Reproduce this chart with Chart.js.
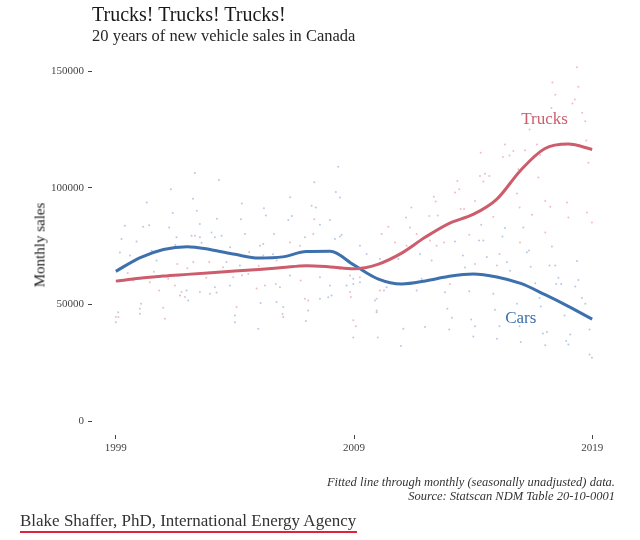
<!DOCTYPE html>
<html>
<head>
<meta charset="utf-8">
<script src="https://cdn.jsdelivr.net/npm/chart.js@4.4.1/dist/chart.umd.min.js"></script>
<style>
  body { margin: 0; background: #fff; font-family: "Liberation Serif", serif; }
  #wrap { position: relative; width: 640px; height: 540px; }
  #salesChart { position: absolute; left: 0; top: 0; }
  .title { position: absolute; left: 92px; top: 3px; font-size: 20px; color: #1a1a1a; }
  .subtitle { position: absolute; left: 92px; top: 26px; font-size: 16.5px; color: #262626; }
  .ylab { position: absolute; left: 40px; top: 245px; font-size: 15px; color: #1a1a1a;
          transform: translate(-50%, -50%) rotate(-90deg); white-space: nowrap; }
  .caption { position: absolute; right: 25px; top: 475px; text-align: right; font-style: italic;
             font-size: 12.5px; line-height: 14px; color: #333; }
  .footer { position: absolute; left: 20px; top: 511px; font-size: 17px; line-height: 20px; color: #333; }
  .uline { position: absolute; left: 20px; top: 531px; width: 337px; height: 2px; background: #e0223c; }
</style>
</head>
<body>
<div id="wrap">
  <canvas id="salesChart" width="640" height="540"></canvas>
  <div class="title">Trucks! Trucks! Trucks!</div>
  <div class="subtitle">20 years of new vehicle sales in Canada</div>
  <div class="ylab">Monthly sales</div>
  <div class="caption">Fitted line through monthly (seasonally unadjusted) data.<br>Source: Statscan NDM Table 20-10-0001</div>
  <div class="footer">Blake Shaffer, PhD, International Energy Agency</div>
  <div class="uline"></div>
</div>
<script>
// fitted lines, one value per year
const fitYears = [1999,2000,2001,2002,2003,2004,2005,2006,2007,2008,2009,2010,2011,2012,2013,2014,2015,2016,2017,2018,2019];
const carsFit = [64200,70000,73600,74800,73500,71500,69900,70400,72700,72800,66900,61000,58800,60100,62100,63100,61800,59000,54300,49200,43700];
const trucksFit = [60000,61200,62200,62900,63600,64300,65000,65800,66600,66100,65300,67200,72000,78900,84800,88600,95200,107600,116800,118800,116500];

// monthly points (subset)
const carsDotYears = [2002.32,2003.33,2001.31,2002.24,2000.30,2004.29,2005.22,2001.39,2002.40,2003.24,2004.25,2005.30,
  2008.34,2007.33,2008.24,2008.41,2006.32,2007.22,2007.40,2006.39,2006.24,2007.99,
  2014.34,2015.34,2016.11,2015.23,2014.25,2014.43,2013.24,2017.31,2016.35,2016.26,2013.57,2014.58,2018.36,2015.42,
  2017.45,2017.21,2016.42,2015.55,2013.66,2017.58,2017.49,2017.70,2018.42,2018.29,2016.61,2018.57,2018.71,2014.85,
  2013.84,2012.82,2016.79,2015.84,2012.92,2014.92,2016.84,2017.84,2013.11,2013.92,2014.08,2015.11,2015.95,2017.10,
  2016.93,2013.00,2018.08,2014.01,2015.00,2017.91,2018.00,2016.00,2017.03,2018.89,2018.99,2018.89,
  1999.38,2000.15,2000.40,2001.24,2002.53,1999.24,2001.55,2002.18,2002.53,2003.02,2003.16,2003.44,2004.42,2005.05,
  2005.19,1999.17,1999.87,2000.71,2003.65,2004.21,2003.16,2003.79,2001.97,2002.04,2001.69,2000.06,2000.01,1999.10,
  1999.00,2004.00,2004.00,2004.98,2005.08,2003.23,
  2006.94,2007.57,2008.48,2008.41,2008.20,2009.25,2009.53,2010.09,2010.86,2011.77,2012.26,2011.84,2011.63,2010.37,
  2010.26,2009.88,2009.95,2009.25,2008.97,2008.97,2008.69,2007.99,2007.92,2008.06,2006.03,2006.03,2006.98,2007.08,
  2008.97,2010.97,2011.07,2011.98,2005.75,2005.89,2005.64,2007.57,2007.57,2006.31,
  1999.60,2000.50,2001.50,2002.60,2003.80,2004.60,2005.60];
const carsDotSales = [106400,103400,99400,95300,93700,93300,91300,89200,90200,86800,86500,88200,
  109100,102400,98200,95900,96000,92300,91600,87900,86200,86200,
  84200,82800,83000,79100,77400,77400,77000,74900,73100,72400,71000,70300,68600,68200,
  66700,66700,66200,64500,65900,61400,58800,58800,60500,57700,59100,52800,50300,54600,
  55700,55200,52800,50300,48200,47700,49100,45300,44300,43500,40600,40600,40600,38200,
  37500,39200,37100,36300,35300,34300,32800,33900,32500,28500,27100,39200,
  83800,83300,84000,83000,84500,78100,78800,79500,78800,80900,78800,79500,80200,75200,
  75900,72300,77000,68800,68200,66700,57400,58100,56000,51700,53800,50300,46000,46700,
  42400,45300,42400,39600,50600,55100,
  78800,84200,79900,79100,78100,75200,71600,69500,69500,71600,68800,61000,56000,57400,
  56000,51700,46700,59500,61000,58800,58100,58100,53100,53800,48900,44600,42900,47400,
  35800,32200,39600,40300,51000,57400,80200,61700,52400,62400,
  71000,73000,75500,76500,74500,72500,71500];

const trucksDotYears = [2012.35,2012.43,2011.41,2011.18,2012.16,2012.52,2007.33,
  2018.36,2017.33,2018.42,2017.45,2018.27,2018.17,2018.58,2018.71,2017.29,2016.37,2018.75,2015.34,2014.32,2015.69,
  2015.53,2015.25,2016.18,2016.68,2016.82,2018.84,2016.74,2015.90,2014.29,2014.50,2014.68,2014.43,2013.34,2013.42,
  2013.24,2015.84,2014.08,2017.94,2013.48,2013.62,2015.95,2017.03,2017.24,2014.85,2018.78,2018.00,2016.47,
  2013.84,2015.97,2015.11,2014.08,2015.00,2013.03,2012.78,2017.03,2018.99,
  1999.00,1999.11,2000.01,2000.82,2001.06,2000.99,1999.73,2001.48,2001.76,2001.90,2002.32,2000.43,2002.92,2002.25,
  2001.58,2003.93,2004.91,2004.07,2005.26,2004.56,2005.19,2002.95,2002.53,
  2010.44,2010.16,2010.72,2011.35,2011.63,2012.19,2012.47,2011.21,2006.31,2007.29,2006.73,2005.75,2008.83,2009.25,
  2008.83,2008.87,2008.97,2009.08,2009.95,2009.95,2006.94,2007.08,2005.72,2006.00,2010.00,2010.09,2008.41,2006.76,
  1999.50,2000.60,2001.20,2002.00,2002.80,2003.50,2004.30,2005.00];
const trucksDotSales = [96200,94200,91600,87300,87900,88200,86500,
  151700,145200,143400,140000,137900,136200,132200,128600,134300,125000,120300,118600,115100,115800,
  113900,113200,116100,118600,114100,110800,104400,108000,105100,106100,105100,102700,103000,99400,
  98000,97600,94400,93700,90900,90900,91600,94400,91900,87600,89400,87300,88500,
  79900,76600,71600,67400,66700,58800,76600,80900,85200,
  44600,44600,48200,56000,43900,48600,60300,58100,55300,53200,79500,59500,68200,68200,
  67400,61700,56800,48900,58100,63100,71000,54600,55300,
  83300,80200,76600,83000,80200,77400,75200,75200,76600,80200,75200,68800,62400,61700,
  55300,53200,43200,40600,47400,52400,52400,51700,58800,45900,35800,56000,65200,60300,
  63500,64000,61000,65500,61500,66000,62500,66500];

const xTicks = [1999, 2009, 2019];
const yTicks = [0, 50000, 100000, 150000];

const carBlue = "#3d70ad";
const truckRed = "#cd5c6c";
const font = "'Liberation Serif', serif";

const pts = (xs, ys) => xs.map((x, i) => ({ x: x, y: ys[i] }));

const lineLabels = {
  id: "lineLabels",
  afterDatasetsDraw(chart) {
    const { ctx, scales } = chart;
    ctx.save();
    ctx.font = "17px " + font;
    ctx.textAlign = "center";
    ctx.textBaseline = "middle";
    ctx.fillStyle = truckRed;
    ctx.fillText("Trucks", scales.x.getPixelForValue(2017.0), scales.y.getPixelForValue(129400));
    ctx.fillStyle = carBlue;
    ctx.fillText("Cars", scales.x.getPixelForValue(2016.0), scales.y.getPixelForValue(44100));
    ctx.restore();
  }
};

new Chart(document.getElementById("salesChart"), {
  type: "scatter",
  data: {
    datasets: [
      { label: "Trucks fit", data: pts(fitYears, trucksFit), showLine: true, borderColor: truckRed,
        borderWidth: 3, pointRadius: 0, cubicInterpolationMode: "monotone", order: 0 },
      { label: "Cars fit", data: pts(fitYears, carsFit), showLine: true, borderColor: carBlue,
        borderWidth: 3, pointRadius: 0, cubicInterpolationMode: "monotone", order: 0 },
      { label: "Cars", data: pts(carsDotYears, carsDotSales), pointRadius: 1, borderWidth: 0,
        backgroundColor: "rgba(110,150,210,0.5)", order: 1 },
      { label: "Trucks", data: pts(trucksDotYears, trucksDotSales), pointRadius: 1, borderWidth: 0,
        backgroundColor: "rgba(230,120,140,0.5)", order: 1 }
    ]
  },
  options: {
    responsive: false,
    animation: false,
    layout: { padding: { top: 48, right: 24, left: 0, bottom: 0 } },
    plugins: { legend: { display: false }, tooltip: { enabled: false } },
    scales: {
      x: {
        type: "linear", min: 1998, max: 2020,
        afterBuildTicks: s => { s.ticks = xTicks.map(v => ({ value: v })); },
        afterFit: s => { s.height = 105; },
        grid: { drawOnChartArea: false, drawTicks: true, tickLength: 4, tickColor: "#444" },
        border: { display: false },
        ticks: { color: "#444", padding: 3, font: { family: font, size: 11 }, callback: v => String(v) }
      },
      y: {
        min: -6000, max: 160000,
        afterBuildTicks: s => { s.ticks = yTicks.map(v => ({ value: v })); },
        afterFit: s => { s.width = 92; },
        grid: { drawOnChartArea: false, drawTicks: true, tickLength: 4, tickColor: "#444" },
        border: { display: false },
        ticks: { color: "#444", padding: 4, font: { family: font, size: 11 }, callback: v => String(v) }
      }
    }
  },
  plugins: [lineLabels]
});
</script>
</body>
</html>
